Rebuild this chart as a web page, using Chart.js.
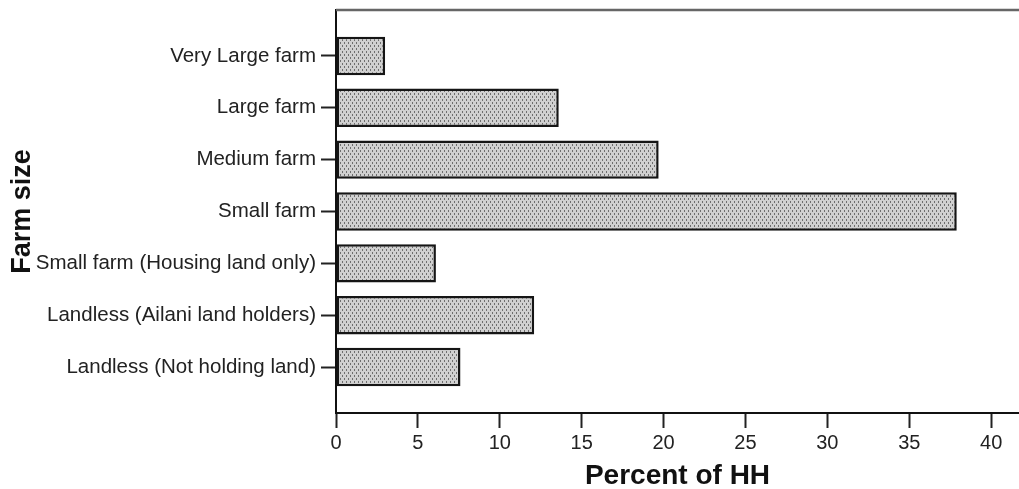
<!DOCTYPE html>
<html>
<head>
<meta charset="utf-8">
<script src="https://cdn.jsdelivr.net/npm/chart.js@4/dist/chart.umd.min.js"></script>
<style>
  body { margin: 0; background: #fff; }
  #wrap { width: 1019px; height: 489px; }
</style>
</head>
<body>
<div id="wrap"><canvas id="myChart"></canvas></div>
<script>
// farm size categories, top to bottom
const farm_sizes = [
    'Very Large farm',
    'Large farm',
    'Medium farm',
    'Small farm',
    'Small farm (Housing land only)',
    'Landless (Ailani land holders)',
    'Landless (Not holding land)'
];
const percent_hh = [3.0, 13.6, 19.7, 37.9, 6.1, 12.1, 7.6];
const x_ticks = [0, 5, 10, 15, 20, 25, 30, 35, 40];

// dotted grey fill like the original
function makePattern() {
    const p = document.createElement('canvas');
    p.width = 4; p.height = 6;
    const c = p.getContext('2d');
    c.fillStyle = '#d0d0d0';
    c.fillRect(0, 0, 4, 6);
    c.fillStyle = '#6e6e6e';
    c.fillRect(0, 0, 1, 2);
    c.fillRect(2, 3, 1, 2);
    return c.createPattern(p, 'repeat');
}

const topBorder = {
    id: 'topBorder',
    afterDraw(chart) {
        const a = chart.chartArea;
        const ctx = chart.ctx;
        ctx.save();
        ctx.strokeStyle = '#666';
        ctx.lineWidth = 2.5;
        ctx.beginPath();
        ctx.moveTo(a.left, a.top);
        ctx.lineTo(a.right, a.top);
        ctx.stroke();
        ctx.restore();
    }
};

const font_family = '"Liberation Sans", Arial, sans-serif';

var context = document.getElementById('myChart');
var myBarChart = new Chart(context, {
    type: 'bar',
    data: {
        datasets: [{
            label: 'Percent of HH',
            data: percent_hh.map((v, i) => ({x: v, y: i})),
            backgroundColor: makePattern(),
            borderColor: '#151515',
            borderWidth: 2.5,
            borderSkipped: false,
            categoryPercentage: 1,
            barPercentage: 0.74
        }]
    },
    plugins: [topBorder],
    options: {
        indexAxis: 'y',
        responsive: true,
        maintainAspectRatio: false,
        animation: false,
        layout: { padding: { top: 10, right: 0, bottom: 0, left: 0 } },
        plugins: {
            legend: { display: false },
            tooltip: { enabled: false }
        },
        scales: {
            x: {
                type: 'linear',
                min: 0,
                max: 41.7,
                afterFit: s => { s.height = 76; s.paddingRight = 0; },
                afterBuildTicks: s => { s.ticks = x_ticks.map(v => ({value: v})); },
                grid: {
                    drawOnChartArea: false,
                    tickLength: 15,
                    tickWidth: 2,
                    tickColor: '#222'
                },
                border: { display: true, color: '#111', width: 2 },
                ticks: {
                    padding: 3,
                    color: '#222',
                    font: { family: font_family, size: 20 }
                },
                title: {
                    display: true,
                    text: 'Percent of HH',
                    color: '#111',
                    padding: { top: 0, bottom: 0 },
                    font: { family: font_family, size: 28, weight: 'bold', lineHeight: 0.93 }
                }
            },
            y: {
                type: 'linear',
                reverse: true,
                offset: false,
                min: -0.886,
                max: 6.886,
                afterFit: s => { s.width = 336; s.paddingTop = 0; s.paddingBottom = 0; },
                afterBuildTicks: s => { s.ticks = farm_sizes.map((_, i) => ({value: i})); },
                grid: {
                    offset: false,
                    drawOnChartArea: false,
                    tickLength: 15,
                    tickWidth: 2,
                    tickColor: '#222'
                },
                border: { display: true, color: '#111', width: 2 },
                ticks: {
                    padding: 5,
                    color: '#222',
                    font: { family: font_family, size: 20.5 },
                    callback: v => farm_sizes[v]
                },
                title: {
                    display: true,
                    text: 'Farm size',
                    color: '#111',
                    padding: { top: 6, bottom: 0 },
                    font: { family: font_family, size: 27, weight: 'bold' }
                }
            }
        }
    }
});
</script>
</body>
</html>
